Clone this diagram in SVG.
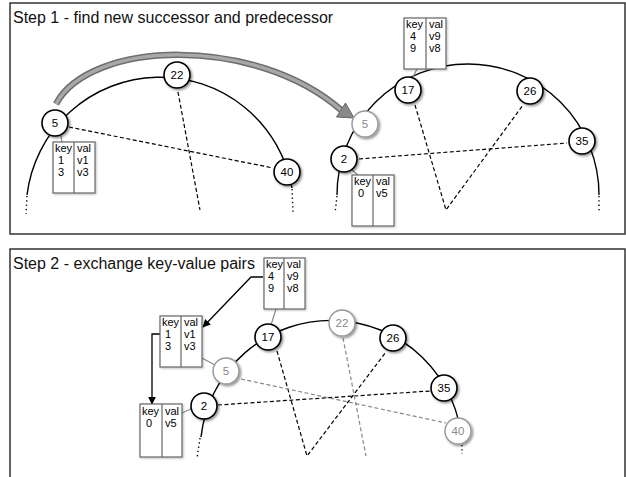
<svg xmlns="http://www.w3.org/2000/svg" width="626" height="477" viewBox="0 0 626 477">
<defs>
<filter id="sh" x="-40%" y="-40%" width="180%" height="180%">
<feDropShadow dx="1.5" dy="1.5" stdDeviation="1.2" flood-color="#000" flood-opacity="0.45"/>
</filter>
<filter id="tsh" x="-20%" y="-20%" width="140%" height="140%">
<feDropShadow dx="1" dy="1" stdDeviation="1" flood-color="#000" flood-opacity="0.25"/>
</filter>
<marker id="ah" viewBox="0 0 10 10" refX="9" refY="5" markerWidth="8" markerHeight="8" markerUnits="userSpaceOnUse" orient="auto">
<path d="M0,0 L10,5 L0,10 z" fill="#000"/>
</marker>
</defs>
<style>
.panel{fill:#fff;stroke:#333;stroke-width:1.5}
.title{font-family:"Liberation Sans",Arial,sans-serif;font-size:16px;fill:#111}
.arc{fill:none;stroke:#000;stroke-width:1.4}
.dot{fill:none;stroke:#000;stroke-width:1.4;stroke-dasharray:1.3,3}
.dash{fill:none;stroke:#000;stroke-width:1.2;stroke-dasharray:4,2.5}
.gdash{fill:none;stroke:#888;stroke-width:1.2;stroke-dasharray:4,2.5}
.tcon{fill:none;stroke:#888;stroke-width:1.2}
.arr{fill:none;stroke:#000;stroke-width:1.3}
.node circle{fill:#fff;stroke:#000;stroke-width:1.6;filter:url(#sh)}
.node text{font-family:"Liberation Sans",Arial,sans-serif;font-size:11.5px;fill:#000;text-anchor:middle}
.gnode circle{fill:#fff;stroke:#999;stroke-width:1.4;filter:url(#sh)}
.gnode text{font-family:"Liberation Sans",Arial,sans-serif;font-size:11.5px;fill:#888;text-anchor:middle}
.tbl rect{fill:#fff;stroke:#666;stroke-width:1.2;filter:url(#tsh)}
.tbl line{stroke:#666;stroke-width:1.2}
.tbl text{font-family:"Liberation Sans",Arial,sans-serif;font-size:11px;fill:#000}
</style>
<rect width="626" height="477" fill="#fff"/>
<g id="panels">
<rect class="panel" x="10" y="3" width="615" height="231"/>
<rect class="panel" x="10" y="249" width="615" height="230"/>
<text class="title" x="13" y="23">Step 1 - find new successor and predecessor</text>
<text class="title" x="13" y="269">Step 2 - exchange key-value pairs</text>
</g>
<g id="connectors">
<!-- step 1 left ring -->
<path class="arc" d="M27,195 A134,134 0 0 1 292,188"/>
<path class="dot" d="M27,196 L26,214"/>
<path class="dot" d="M292,189 L293,212"/>
<path class="dash" d="M69,127 L273,168"/>
<path class="dash" d="M178,92 L200,210"/>
<!-- step 1 right ring -->
<path class="arc" d="M337,195 A131,131 0 0 1 599,195"/>
<path class="dot" d="M337,196 L335,213"/>
<path class="dot" d="M599,196 L599,213"/>
<path class="dash" d="M359,159 L567,143"/>
<path class="dash" d="M415,105 L446,210 L523,105"/>
<!-- step 1 moving arrow -->
<path d="M56,104 C90,40 255,35 341,110" fill="none" stroke="#6e6e6e" stroke-width="6.5"/>
<path d="M56,104 C90,40 255,35 341,110" fill="none" stroke="#a8a8a8" stroke-width="3.5"/>
<polygon points="354,118 336.5,117 345.5,103" fill="#8a8a8a" stroke="#666" stroke-width="1"/>
<!-- step 1 table connectors -->
<path class="tcon" d="M61,136 L62,142"/>
<path class="tcon" d="M417,69 L413,77"/>
<path class="tcon" d="M352,170 L358,175"/>
<!-- step 2 ring -->
<path class="arc" d="M201,437 A131,131 0 0 1 462,444"/>
<path class="dot" d="M200,438 L197,458"/>
<path class="dot" d="M462,445 L462,454"/>
<path class="dash" d="M277,351 L307,456 L386,352"/>
<path class="dash" d="M218,405 L430,391"/>
<path class="gdash" d="M241,379 L446,423"/>
<path class="gdash" d="M343,338 L366,456"/>
<!-- step 2 table connectors -->
<path class="tcon" d="M276,309 L271,325"/>
<path class="tcon" d="M202,358 L215,365"/>
<path class="tcon" d="M182,413 L193,408"/>
<!-- step 2 arrows -->
<path class="arr" d="M263,277 L251,277 L203,327" marker-end="url(#ah)"/>
<path class="arr" d="M164,334 L152,334 L152,404" marker-end="url(#ah)"/>
</g>
<!-- step 1 nodes -->
<g id="s1-n5" class="node"><circle cx="55" cy="123" r="13"/><text x="55" y="127">5</text></g>
<g id="s1-n22" class="node"><circle cx="177" cy="75" r="13"/><text x="177" y="79">22</text></g>
<g id="s1-n40" class="node"><circle cx="287" cy="172" r="13"/><text x="287" y="176">40</text></g>
<g id="s1-n5new" class="gnode"><circle cx="365" cy="124" r="13"/><text x="365" y="128">5</text></g>
<g id="s1-n2" class="node"><circle cx="344" cy="159" r="13"/><text x="344" y="163">2</text></g>
<g id="s1-n17" class="node"><circle cx="408" cy="90" r="13"/><text x="408" y="94">17</text></g>
<g id="s1-n26" class="node"><circle cx="530" cy="91" r="13"/><text x="530" y="95">26</text></g>
<g id="s1-n35" class="node"><circle cx="582" cy="141" r="13"/><text x="582" y="145">35</text></g>
<!-- step 1 tables -->
<g id="s1-t5" class="tbl"><rect x="53" y="142" width="42" height="51"/><line x1="74" y1="142" x2="74" y2="193"/>
<text x="55" y="152">key</text><text x="58" y="164">1</text><text x="58" y="176">3</text>
<text x="77" y="152">val</text><text x="77" y="164">v1</text><text x="77" y="176">v3</text></g>
<g id="s1-t17" class="tbl"><rect x="404" y="18" width="42" height="51"/><line x1="426" y1="18" x2="426" y2="69"/>
<text x="406" y="28">key</text><text x="410" y="40">4</text><text x="410" y="52">9</text>
<text x="429" y="28">val</text><text x="429" y="40">v9</text><text x="429" y="52">v8</text></g>
<g id="s1-t2" class="tbl"><rect x="352" y="175" width="42" height="51"/><line x1="373" y1="175" x2="373" y2="226"/>
<text x="354" y="185">key</text><text x="358" y="197">0</text>
<text x="376" y="185">val</text><text x="376" y="197">v5</text></g>
<!-- step 2 nodes -->
<g id="s2-n17" class="node"><circle cx="268" cy="337" r="13"/><text x="268" y="341">17</text></g>
<g id="s2-n5" class="gnode"><circle cx="226" cy="371" r="13"/><text x="226" y="375">5</text></g>
<g id="s2-n2" class="node"><circle cx="204" cy="406" r="13"/><text x="204" y="410">2</text></g>
<g id="s2-n22" class="gnode"><circle cx="342" cy="323" r="13"/><text x="342" y="327">22</text></g>
<g id="s2-n26" class="node"><circle cx="393" cy="338" r="13"/><text x="393" y="342">26</text></g>
<g id="s2-n35" class="node"><circle cx="444" cy="388" r="13"/><text x="444" y="392">35</text></g>
<g id="s2-n40" class="gnode"><circle cx="458" cy="431" r="13"/><text x="458" y="435">40</text></g>
<!-- step 2 tables -->
<g id="s2-t17" class="tbl"><rect x="264" y="258" width="41" height="51"/><line x1="284" y1="258" x2="284" y2="309"/>
<text x="266" y="268">key</text><text x="268" y="280">4</text><text x="268" y="292">9</text>
<text x="287" y="268">val</text><text x="287" y="280">v9</text><text x="287" y="292">v8</text></g>
<g id="s2-t5" class="tbl"><rect x="160" y="316" width="42" height="51"/><line x1="181" y1="316" x2="181" y2="367"/>
<text x="162" y="326">key</text><text x="165" y="338">1</text><text x="165" y="350">3</text>
<text x="184" y="326">val</text><text x="184" y="338">v1</text><text x="184" y="350">v3</text></g>
<g id="s2-t2" class="tbl"><rect x="140" y="404" width="42" height="53"/><line x1="162" y1="404" x2="162" y2="457"/>
<text x="142" y="415">key</text><text x="146" y="427">0</text>
<text x="165" y="415">val</text><text x="165" y="427">v5</text></g>
</svg>
